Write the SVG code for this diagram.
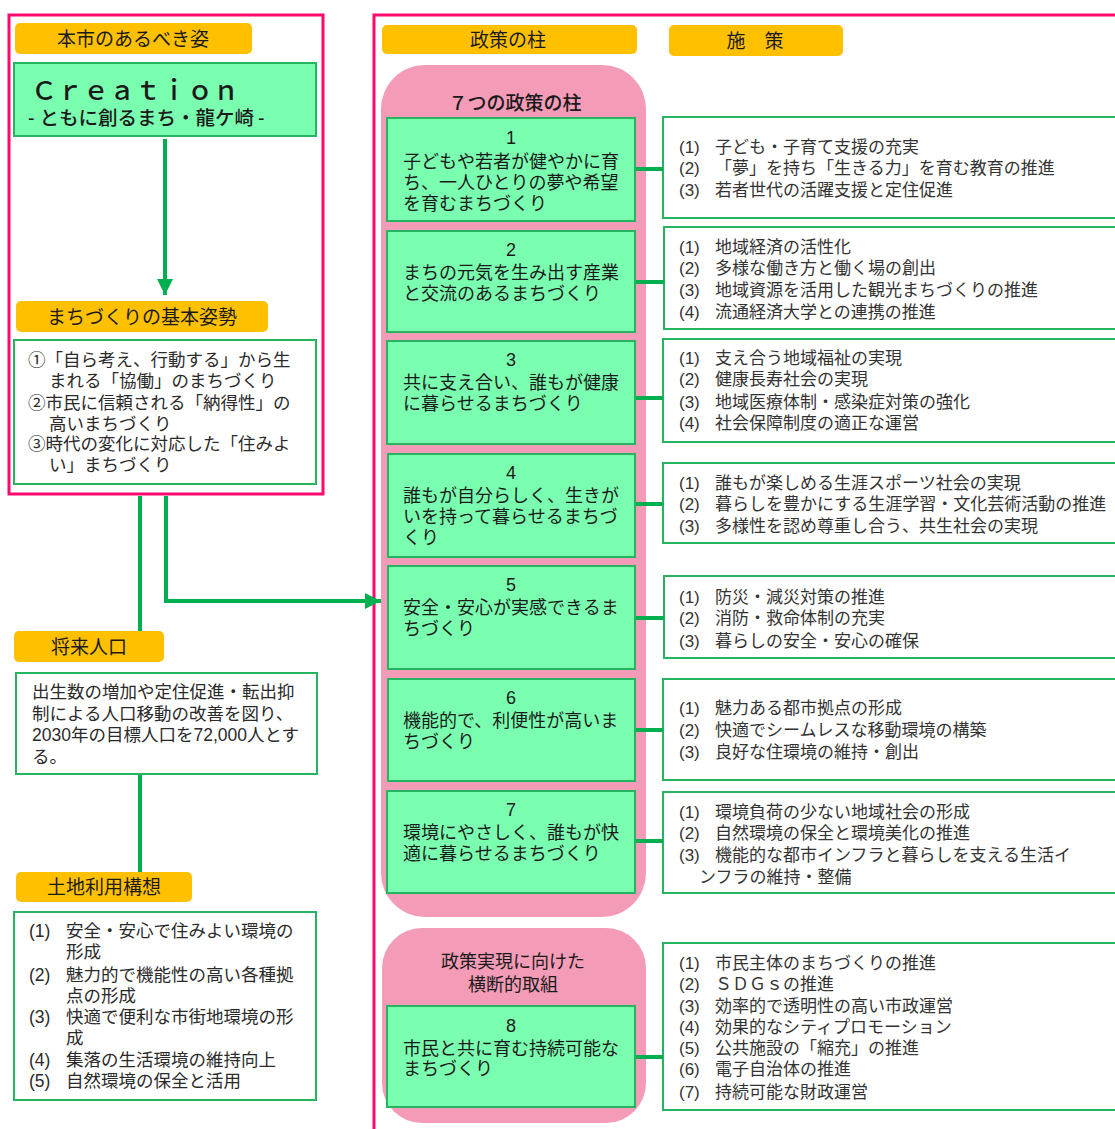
<svg xmlns="http://www.w3.org/2000/svg" width="1115" height="1129" viewBox="0 0 1115 1129">
<style>
text{font-family:"Liberation Sans","Noto Sans CJK JP",sans-serif;fill:#1a1a1a}
.frame{fill:none;stroke:#FF0A6C;stroke-width:3}
.lab{fill:#FFC000}
.labt{font-size:19px;text-anchor:middle}
.gbox{fill:#7AFFB0;stroke:#25B460;stroke-width:2}
.wbox{fill:#fff;stroke:#25B460;stroke-width:2}
.pink{fill:#F49CB7}
.lt{font-size:17.5px;fill:#2a2a2a}
.pt{font-size:18px}
.pn{font-size:18px;text-anchor:middle}
.mt{font-size:17px;fill:#333}
.con{stroke:#00B050;stroke-width:4;fill:none}
</style>
<defs>
<marker id="ah" viewBox="0 0 10 10" refX="10" refY="5" markerWidth="4" markerHeight="4" orient="auto" markerUnits="strokeWidth">
<path d="M0,0 L10,5 L0,10 z" fill="#00B050"/>
</marker>
</defs>

<!-- frames -->
<rect class="frame" x="9" y="15" width="314" height="479"/>
<path class="frame" d="M374,1135 V15 H1125"/>

<!-- left column -->
<g id="vision-label"><rect class="lab" x="15" y="23" width="237" height="31" rx="5"/><text class="labt" x="133" y="46">本市のあるべき姿</text></g>
<g id="vision"><rect class="gbox" x="14" y="63" width="302" height="73"/>
<text x="31" y="100" style="font-size:26px;font-weight:500">Ｃｒｅａｔｉｏｎ</text>
<text x="28" y="125" style="font-size:19.5px;font-weight:500">-<tspan dx="5">ともに創るまち・龍ケ崎</tspan><tspan dx="4">-</tspan></text></g>

<g id="basic-label"><rect class="lab" x="16" y="301" width="252" height="31" rx="5"/><text class="labt" x="142" y="324">まちづくりの基本姿勢</text></g>
<g id="basic"><rect class="wbox" x="14" y="340" width="302" height="144"/>
<text class="lt" x="28" y="366">①「自ら考え、行動する」から生</text>
<text class="lt" x="49" y="387">まれる「協働」のまちづくり</text>
<text class="lt" x="28" y="409">②市民に信頼される「納得性」の</text>
<text class="lt" x="49" y="430">高いまちづくり</text>
<text class="lt" x="28" y="450">③時代の変化に対応した「住みよ</text>
<text class="lt" x="49" y="471">い」まちづくり</text></g>

<g id="pop-label"><rect class="lab" x="14" y="631" width="150" height="31" rx="5"/><text class="labt" x="89" y="654">将来人口</text></g>
<g id="pop"><rect class="wbox" x="16" y="673" width="301" height="101"/>
<text class="lt" x="32" y="698">出生数の増加や定住促進・転出抑</text>
<text class="lt" x="32" y="720">制による人口移動の改善を図り、</text>
<text class="lt" x="32" y="741">2030年の目標人口を72,000人とす</text>
<text class="lt" x="32" y="763">る。</text></g>

<g id="land-label"><rect class="lab" x="16" y="872" width="176" height="30" rx="5"/><text class="labt" x="104" y="894">土地利用構想</text></g>
<g id="land"><rect class="wbox" x="14" y="912" width="302" height="188"/>
<text class="lt" y="937"><tspan x="29">(1)</tspan><tspan x="66">安全・安心で住みよい環境の</tspan></text>
<text class="lt" x="66" y="958">形成</text>
<text class="lt" y="981"><tspan x="29">(2)</tspan><tspan x="66">魅力的で機能性の高い各種拠</tspan></text>
<text class="lt" x="66" y="1002">点の形成</text>
<text class="lt" y="1023"><tspan x="29">(3)</tspan><tspan x="66">快適で便利な市街地環境の形</tspan></text>
<text class="lt" x="66" y="1044">成</text>
<text class="lt" y="1066"><tspan x="29">(4)</tspan><tspan x="66">集落の生活環境の維持向上</tspan></text>
<text class="lt" y="1087"><tspan x="29">(5)</tspan><tspan x="66">自然環境の保全と活用</tspan></text></g>

<!-- headers right -->
<g id="pillar-label"><rect class="lab" x="382" y="25" width="255" height="29" rx="5"/><text class="labt" x="508" y="47">政策の柱</text></g>
<g id="measure-label"><rect class="lab" x="669" y="25" width="174" height="31" rx="5"/><text class="labt" x="755" y="48">施　策</text></g>

<!-- pink groups -->
<g id="seven"><rect class="pink" x="381" y="65" width="265" height="852" rx="44"/>
<text x="515" y="110" style="font-size:19px;text-anchor:middle;font-weight:500">７つの政策の柱</text></g>
<g id="cross"><rect class="pink" x="382" y="928" width="264" height="195" rx="40"/>
<text x="513" y="968" style="font-size:18px;text-anchor:middle">政策実現に向けた</text>
<text x="513" y="991" style="font-size:18px;text-anchor:middle">横断的取組</text></g>

<!-- pillars -->
<g id="p1"><rect class="gbox" x="387" y="118" width="248" height="103"/>
<text class="pn" x="511" y="144">1</text>
<text class="pt" x="403" y="168">子どもや若者が健やかに育</text>
<text class="pt" x="403" y="189">ち、一人ひとりの夢や希望</text>
<text class="pt" x="403" y="210">を育むまちづくり</text></g>
<g id="p2"><rect class="gbox" x="387" y="231" width="248" height="101"/>
<text class="pn" x="511" y="256">2</text>
<text class="pt" x="403" y="279">まちの元気を生み出す産業</text>
<text class="pt" x="403" y="300">と交流のあるまちづくり</text></g>
<g id="p3"><rect class="gbox" x="387" y="341" width="248" height="103"/>
<text class="pn" x="511" y="366">3</text>
<text class="pt" x="403" y="389">共に支え合い、誰もが健康</text>
<text class="pt" x="403" y="410">に暮らせるまちづくり</text></g>
<g id="p4"><rect class="gbox" x="388" y="454" width="247" height="103"/>
<text class="pn" x="511" y="479">4</text>
<text class="pt" x="403" y="502">誰もが自分らしく、生きが</text>
<text class="pt" x="403" y="523">いを持って暮らせるまちづ</text>
<text class="pt" x="403" y="544">くり</text></g>
<g id="p5"><rect class="gbox" x="388" y="566" width="247" height="103"/>
<text class="pn" x="511" y="591">5</text>
<text class="pt" x="403" y="614">安全・安心が実感できるま</text>
<text class="pt" x="403" y="635">ちづくり</text></g>
<g id="p6"><rect class="gbox" x="388" y="679" width="247" height="102"/>
<text class="pn" x="511" y="704">6</text>
<text class="pt" x="403" y="727">機能的で、利便性が高いま</text>
<text class="pt" x="403" y="748">ちづくり</text></g>
<g id="p7"><rect class="gbox" x="387" y="791" width="248" height="102"/>
<text class="pn" x="511" y="816">7</text>
<text class="pt" x="403" y="839">環境にやさしく、誰もが快</text>
<text class="pt" x="403" y="860">適に暮らせるまちづくり</text></g>
<g id="p8"><rect class="gbox" x="387" y="1006" width="248" height="101"/>
<text class="pn" x="511" y="1032">8</text>
<text class="pt" x="403" y="1055">市民と共に育む持続可能な</text>
<text class="pt" x="403" y="1075">まちづくり</text></g>

<!-- measures -->
<g id="m1"><rect class="wbox" x="663" y="117" width="470" height="101"/>
<text class="mt" y="153"><tspan x="679">(1)</tspan><tspan x="715">子ども・子育て支援の充実</tspan></text>
<text class="mt" y="174"><tspan x="679">(2)</tspan><tspan x="715">「夢」を持ち「生きる力」を育む教育の推進</tspan></text>
<text class="mt" y="196"><tspan x="679">(3)</tspan><tspan x="715">若者世代の活躍支援と定住促進</tspan></text></g>
<g id="m2"><rect class="wbox" x="664" y="227" width="470" height="102"/>
<text class="mt" y="253"><tspan x="679">(1)</tspan><tspan x="715">地域経済の活性化</tspan></text>
<text class="mt" y="274"><tspan x="679">(2)</tspan><tspan x="715">多様な働き方と働く場の創出</tspan></text>
<text class="mt" y="296"><tspan x="679">(3)</tspan><tspan x="715">地域資源を活用した観光まちづくりの推進</tspan></text>
<text class="mt" y="318"><tspan x="679">(4)</tspan><tspan x="715">流通経済大学との連携の推進</tspan></text></g>
<g id="m3"><rect class="wbox" x="663" y="339" width="470" height="103"/>
<text class="mt" y="364"><tspan x="679">(1)</tspan><tspan x="715">支え合う地域福祉の実現</tspan></text>
<text class="mt" y="385"><tspan x="679">(2)</tspan><tspan x="715">健康長寿社会の実現</tspan></text>
<text class="mt" y="408"><tspan x="679">(3)</tspan><tspan x="715">地域医療体制・感染症対策の強化</tspan></text>
<text class="mt" y="429"><tspan x="679">(4)</tspan><tspan x="715">社会保障制度の適正な運営</tspan></text></g>
<g id="m4"><rect class="wbox" x="663" y="463" width="470" height="80"/>
<text class="mt" y="489"><tspan x="679">(1)</tspan><tspan x="715">誰もが楽しめる生涯スポーツ社会の実現</tspan></text>
<text class="mt" y="510"><tspan x="679">(2)</tspan><tspan x="715">暮らしを豊かにする生涯学習・文化芸術活動の推進</tspan></text>
<text class="mt" y="532"><tspan x="679">(3)</tspan><tspan x="715">多様性を認め尊重し合う、共生社会の実現</tspan></text></g>
<g id="m5"><rect class="wbox" x="664" y="576" width="470" height="82"/>
<text class="mt" y="603"><tspan x="679">(1)</tspan><tspan x="715">防災・減災対策の推進</tspan></text>
<text class="mt" y="624"><tspan x="679">(2)</tspan><tspan x="715">消防・救命体制の充実</tspan></text>
<text class="mt" y="647"><tspan x="679">(3)</tspan><tspan x="715">暮らしの安全・安心の確保</tspan></text></g>
<g id="m6"><rect class="wbox" x="663" y="679" width="470" height="101"/>
<text class="mt" y="714"><tspan x="679">(1)</tspan><tspan x="715">魅力ある都市拠点の形成</tspan></text>
<text class="mt" y="736"><tspan x="679">(2)</tspan><tspan x="715">快適でシームレスな移動環境の構築</tspan></text>
<text class="mt" y="758"><tspan x="679">(3)</tspan><tspan x="715">良好な住環境の維持・創出</tspan></text></g>
<g id="m7"><rect class="wbox" x="663" y="792" width="470" height="101"/>
<text class="mt" y="818"><tspan x="679">(1)</tspan><tspan x="715">環境負荷の少ない地域社会の形成</tspan></text>
<text class="mt" y="839"><tspan x="679">(2)</tspan><tspan x="715">自然環境の保全と環境美化の推進</tspan></text>
<text class="mt" y="861"><tspan x="679">(3)</tspan><tspan x="715">機能的な都市インフラと暮らしを支える生活イ</tspan></text>
<text class="mt" x="699" y="883">ンフラの維持・整備</text></g>
<g id="m8"><rect class="wbox" x="663" y="943" width="470" height="167"/>
<text class="mt" y="969"><tspan x="679">(1)</tspan><tspan x="715">市民主体のまちづくりの推進</tspan></text>
<text class="mt" y="990"><tspan x="679">(2)</tspan><tspan x="715">ＳＤＧｓの推進</tspan></text>
<text class="mt" y="1012"><tspan x="679">(3)</tspan><tspan x="715">効率的で透明性の高い市政運営</tspan></text>
<text class="mt" y="1033"><tspan x="679">(4)</tspan><tspan x="715">効果的なシティプロモーション</tspan></text>
<text class="mt" y="1054"><tspan x="679">(5)</tspan><tspan x="715">公共施設の「縮充」の推進</tspan></text>
<text class="mt" y="1075"><tspan x="679">(6)</tspan><tspan x="715">電子自治体の推進</tspan></text>
<text class="mt" y="1098"><tspan x="679">(7)</tspan><tspan x="715">持続可能な財政運営</tspan></text></g>

<!-- connectors -->
<g id="connectors">
<path class="con" d="M165,139 V295" marker-end="url(#ah)"/>
<path class="con" d="M140,496 V631"/>
<path class="con" d="M140,775 V872"/>
<path class="con" d="M166,496 V601 H381" marker-end="url(#ah)"/>
<path class="con" d="M636,169 H663"/>
<path class="con" d="M636,282 H664"/>
<path class="con" d="M636,398 H663"/>
<path class="con" d="M636,504 H663"/>
<path class="con" d="M636,618 H664"/>
<path class="con" d="M636,730 H663"/>
<path class="con" d="M636,841 H663"/>
<path class="con" d="M636,1057 H663"/>
</g>
</svg>
